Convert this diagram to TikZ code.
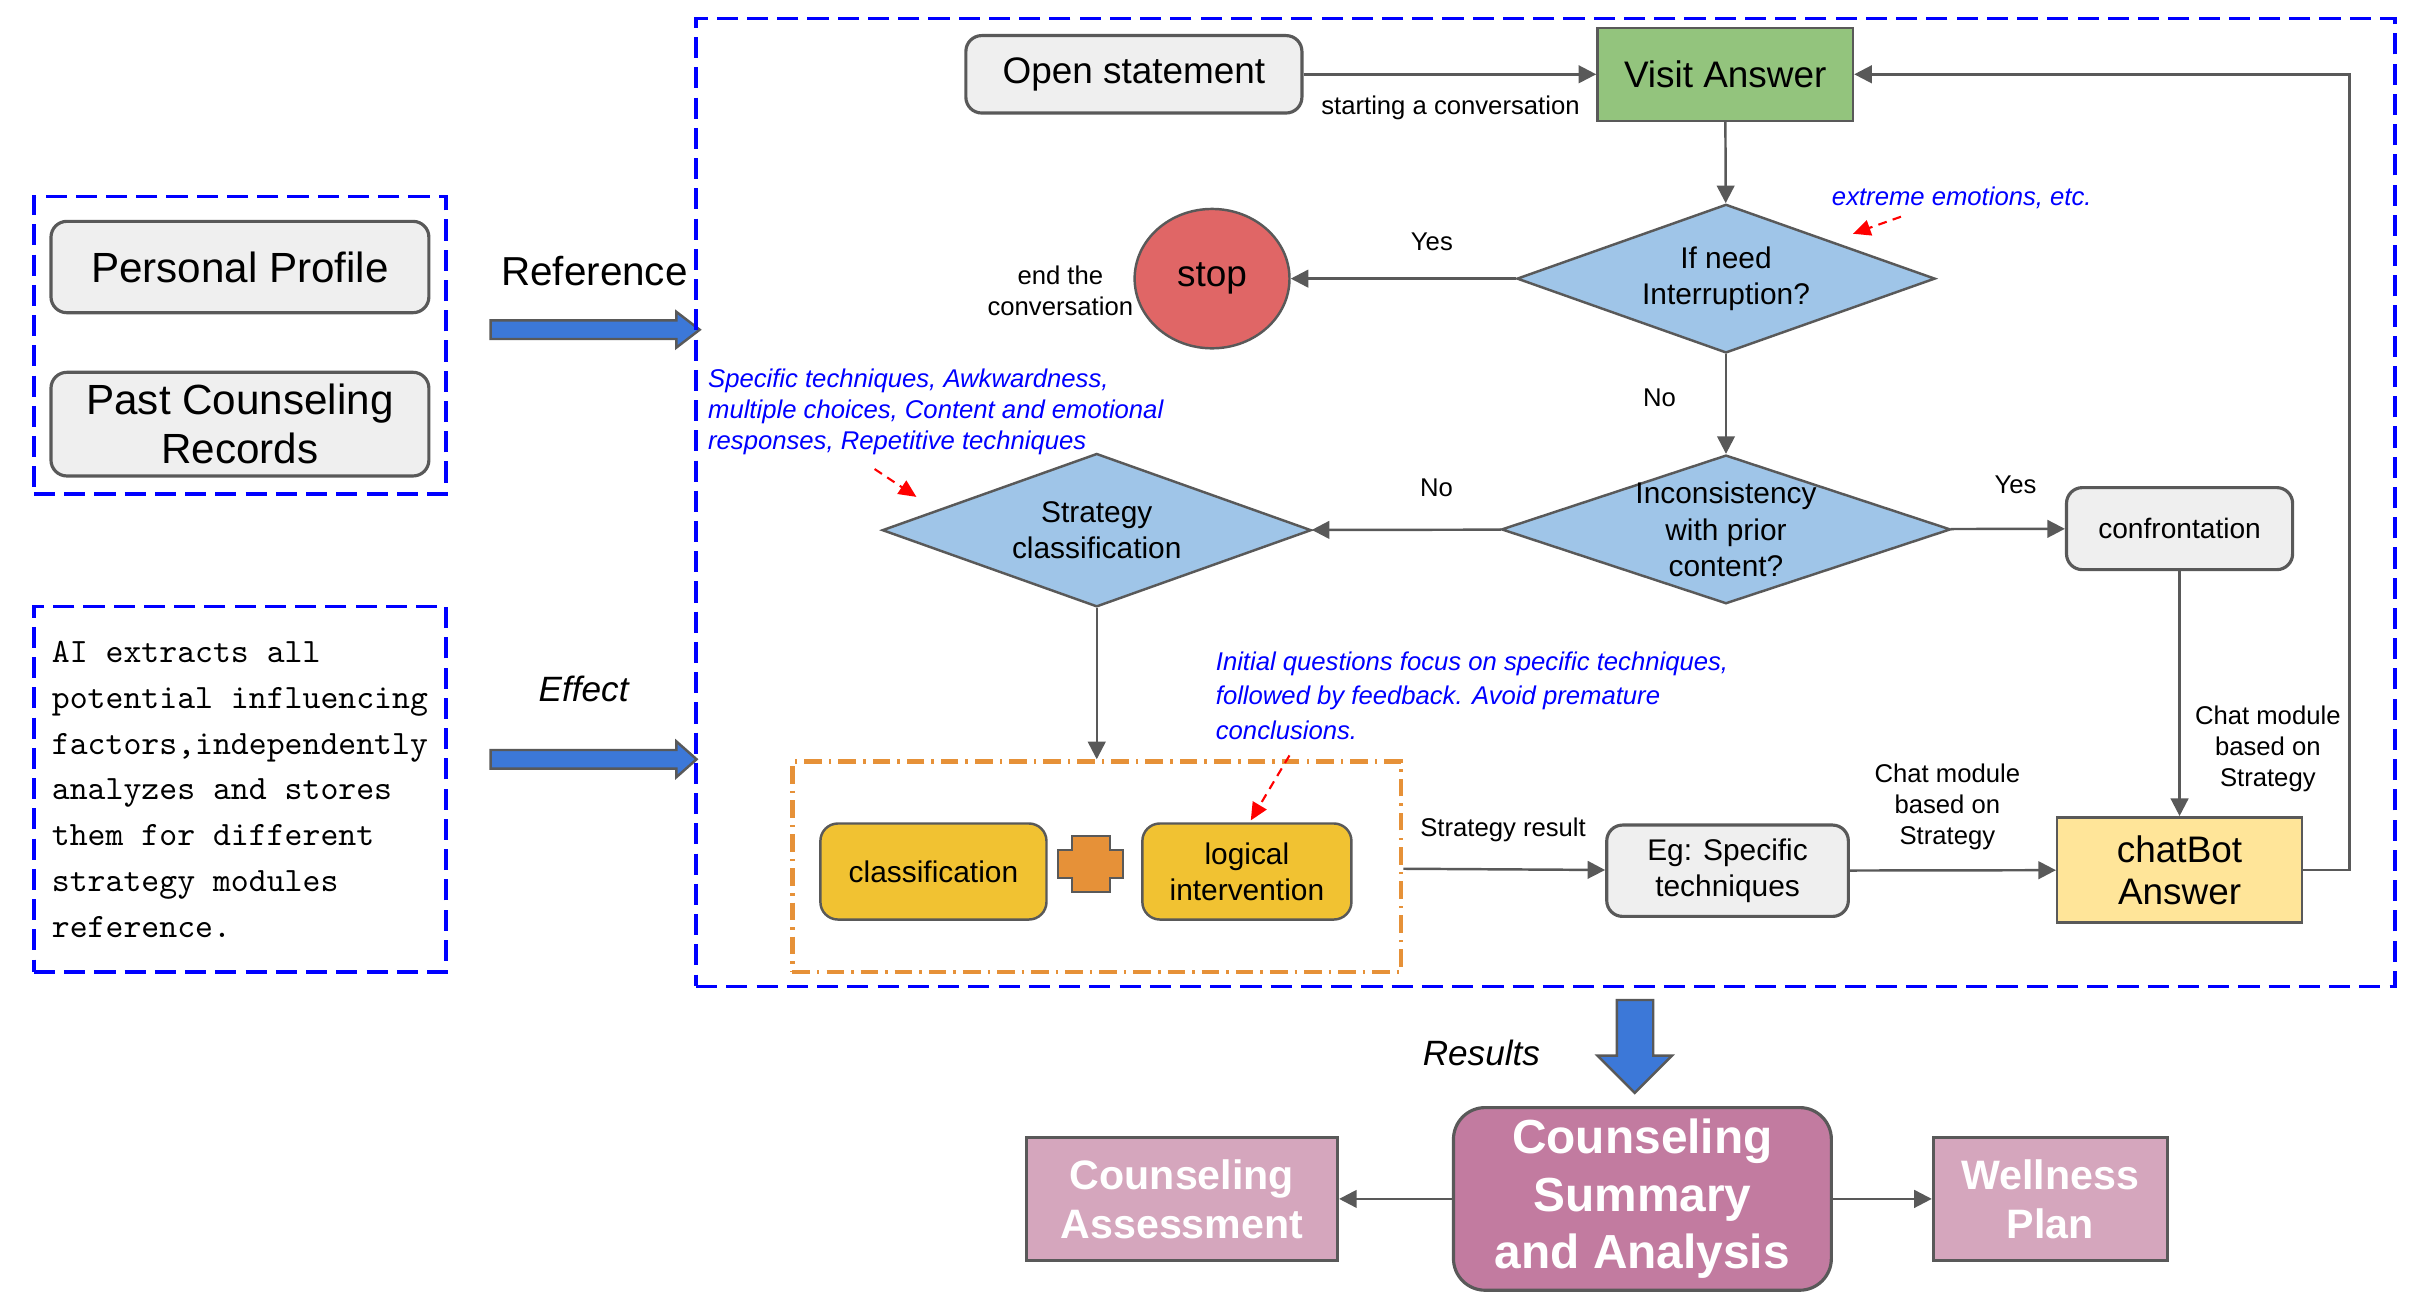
\documentclass[tikz,border=0pt]{standalone}
\usepackage{fontspec}
\setmainfont{Liberation Sans}
\usetikzlibrary{shapes.geometric,arrows.meta}

\definecolor{boxgray}{HTML}{EFEFEF}
\definecolor{linegray}{HTML}{595959}
\definecolor{visitgreen}{HTML}{93C47D}
\definecolor{stopred}{HTML}{E06666}
\definecolor{diablue}{HTML}{9FC5E8}
\definecolor{stratyellow}{HTML}{F1C232}
\definecolor{plusorange}{HTML}{E69138}
\definecolor{chatyellow}{HTML}{FFE599}
\definecolor{sumpurple}{HTML}{C27BA0}
\definecolor{outpurple}{HTML}{D5A6BD}
\definecolor{arrowblue}{HTML}{3C78D8}

\tikzset{
  graybox/.style={draw=linegray, line width=0.9pt, fill=boxgray, rounded corners=4.5pt, align=center},
  colbox/.style={draw=linegray, line width=0.7pt, align=center},
  dia/.style={diamond, draw=linegray, line width=0.7pt, fill=diablue, aspect=2.8, inner sep=0pt,
    align=center, font=\fontsize{8.5}{10.2}\selectfont},
  groupbox/.style={draw=blue, line width=1pt, dash pattern=on 6pt off 2.6pt},
  flow/.style={draw=linegray, line width=0.7pt, -{Triangle[length=5pt,width=5pt]}},
  hint/.style={draw=red, line width=0.6pt, dash pattern=on 2.5pt off 1.8pt, -{Triangle[length=5pt,width=4.5pt]}},
  lbl/.style={align=center, inner sep=1pt, font=\fontsize{7.3}{8.8}\selectfont},
  note/.style={align=left, inner sep=0pt, text=blue, font=\itshape\fontsize{7.3}{8.8}\selectfont},
  blockarrow/.style={draw=linegray, line width=0.7pt, fill=arrowblue},
}

\begin{document}
\begin{tikzpicture}[x=0.01548cm, y=-0.01548cm]
  \useasboundingbox (0,0) rectangle (1560.1,847.5);

  \node[groupbox, minimum width=4.118cm, minimum height=2.972cm] (inputs) at (155,223) {};
  \node[graybox, minimum width=3.777cm, minimum height=0.913cm, font=\fontsize{12}{14}\selectfont] (prof) at (155,172.5) {Personal Profile};
  \node[graybox, minimum width=3.777cm, minimum height=1.022cm, font=\fontsize{12}{14}\selectfont] (past) at (155,274) {Past Counseling\\Records};
  \node[groupbox, minimum width=4.118cm, minimum height=3.653cm, align=left,
    font=\ttfamily\fontsize{9.7}{13}\selectfont] (aitext) at (155,510)
    {AI extracts all\\potential influencing\\factors,independently\\analyzes and stores\\them for different\\strategy modules\\reference.};

  \node[font=\fontsize{11.5}{14}\selectfont] (reflbl) at (384,175) {Reference};
  \node[font=\itshape\fontsize{10}{12}\selectfont] (efflbl) at (377,445) {Effect};
  \filldraw[blockarrow] (317,207) -- (437,207) -- (437,201.5) -- (452,213) -- (437,224.5) -- (437,219) -- (317,219) -- cycle;
  \filldraw[blockarrow] (317,484.5) -- (437,484.5) -- (437,479) -- (450,490.5) -- (437,502) -- (437,496.5) -- (317,496.5) -- cycle;

  \node[groupbox, minimum width=16.982cm, minimum height=9.675cm] (flowarea) at (998.5,324.5) {};

  \node[graybox, minimum width=3.359cm, minimum height=0.774cm, font=\fontsize{10.5}{12}\selectfont] (open) at (732.5,48) {Open statement};
  \node[colbox, fill=visitgreen, minimum width=2.554cm, minimum height=0.929cm, font=\fontsize{10.5}{12}\selectfont] (visit) at (1114.5,48) {Visit Answer};
  \node[colbox, ellipse, fill=stopred, minimum width=1.548cm, minimum height=1.393cm, font=\fontsize{10.5}{12}\selectfont] (stop) at (783,180) {stop};
  \node[dia, minimum width=4.18cm, minimum height=1.486cm] (d1) at (1115,180) {If need\\Interruption?};
  \node[dia, minimum width=4.489cm, minimum height=1.486cm] (d2) at (1115,342) {};
  \node[align=center, font=\fontsize{8.5}{10.3}\selectfont] (d2text) at (d2) {Inconsistency\\with prior\\content?};
  \node[dia, minimum width=4.288cm, minimum height=1.533cm] (d3) at (708.5,342.5) {Strategy\\classification};
  \node[graybox, minimum width=2.26cm, minimum height=0.82cm, font=\fontsize{8}{10}\selectfont] (conf) at (1408,341.5) {confrontation};

  \node[draw=plusorange, line width=1.3pt, dash pattern=on 5pt off 2pt on 0.7pt off 2pt,
    minimum width=6.084cm, minimum height=2.105cm] (grp) at (708.5,560) {};
  \node[colbox, fill=stratyellow, rounded corners=5pt, minimum width=2.26cm, minimum height=0.96cm, font=\fontsize{8.5}{10.3}\selectfont] (cls) at (603,563) {classification};
  \node[colbox, fill=stratyellow, rounded corners=5pt, minimum width=2.09cm, minimum height=0.96cm, font=\fontsize{8.5}{10.3}\selectfont] (logic) at (805.5,563) {logical\\intervention};
  \filldraw[draw=linegray, line width=0.6pt, fill=plusorange] (692.5,540) -- (717,540) -- (717,549) -- (725.5,549) -- (725.5,567) -- (717,567)
    -- (717,576) -- (692.5,576) -- (692.5,567) -- (683.5,567) -- (683.5,549) -- (692.5,549) -- cycle;
  \node[graybox, minimum width=2.415cm, minimum height=0.913cm, font=\fontsize{8.5}{10.3}\selectfont] (eg) at (1116,562.5) {Eg: Specific\\techniques};
  \node[colbox, fill=chatyellow, minimum width=2.446cm, minimum height=1.053cm, font=\fontsize{10.5}{12}\selectfont] (chat) at (1408,562) {chatBot\\Answer};

  \draw[flow] (open) -- (visit);
  \draw[flow] (visit) -- (d1);
  \draw[flow] (d1) -- (stop);
  \draw[flow] (d1) -- (d2);
  \draw[flow] (d2) -- (d3);
  \draw[flow] (d2) -- (conf);
  \draw[flow] (d3) -- (grp);
  \draw[flow] (grp) -- (eg);
  \draw[flow] (eg) -- (chat);
  \draw[flow] (conf) -- (chat);
  \draw[flow] (chat.east) -- ++(30,0) |- (visit.east);

  \node[lbl] (startlbl) at (937,70) {starting a conversation};
  \node[lbl] (endlbl) at (685,188) {end the\\conversation};
  \node[lbl] (yes1) at (925,156) {Yes};
  \node[lbl] (no1) at (1072,257) {No};
  \node[lbl] (no2) at (928,315) {No};
  \node[lbl] (yes2) at (1302,313) {Yes};
  \node[lbl] (reslbl) at (971,536) {Strategy result};
  \node[lbl] (chatlbl1) at (1258,521) {Chat module\\based on\\Strategy};
  \node[lbl] (chatlbl2) at (1465,484) {Chat module\\based on\\Strategy};

  \node[note, anchor=west] (emonote) at (1183,128) {extreme emotions, etc.};
  \node[note, anchor=west] (technote) at (457,266) {Specific techniques, Awkwardness,\\multiple choices, Content and emotional\\responses, Repetitive techniques};
  \node[note, anchor=west, font=\itshape\fontsize{7.3}{9.9}\selectfont] (qnote) at (785,449.5) {Initial questions focus on specific techniques,\\followed by feedback. Avoid premature\\conclusions.};
  \coordinate (emoA) at (1228,140);
  \coordinate (emoB) at (1197,151);
  \coordinate (techA) at (565,303);
  \coordinate (techB) at (592,321);
  \coordinate (qA) at (833,488);
  \coordinate (qB) at (808,530);
  \draw[hint] (emoA) -- (emoB);
  \draw[hint] (techA) -- (techB);
  \draw[hint] (qA) -- (qB);

  \filldraw[blockarrow] (1044.5,646) -- (1068,646) -- (1068,682) -- (1080,682) -- (1056,706) -- (1032,682) -- (1044.5,682) -- cycle;
  \node[font=\itshape\fontsize{10}{12}\selectfont] (outlbl) at (957,680) {Results};
  \node[colbox, line width=0.9pt, fill=sumpurple, rounded corners=9pt, text=white, minimum width=3.777cm, minimum height=1.811cm,
    font=\bfseries\fontsize{13.6}{16.3}\selectfont] (summ) at (1061,774.5) {Counseling\\Summary\\and Analysis};
  \node[colbox, line width=0.9pt, fill=outpurple, text=white, minimum width=3.111cm, minimum height=1.223cm,
    font=\bfseries\fontsize{11.7}{14}\selectfont] (assess) at (763.5,774.5) {Counseling\\Assessment};
  \node[colbox, line width=0.9pt, fill=outpurple, text=white, minimum width=2.337cm, minimum height=1.223cm,
    font=\bfseries\fontsize{11.7}{14}\selectfont] (well) at (1324.5,774.5) {Wellness\\Plan};
  \draw[flow] (summ) -- (assess);
  \draw[flow] (summ) -- (well);
\end{tikzpicture}
\end{document}
